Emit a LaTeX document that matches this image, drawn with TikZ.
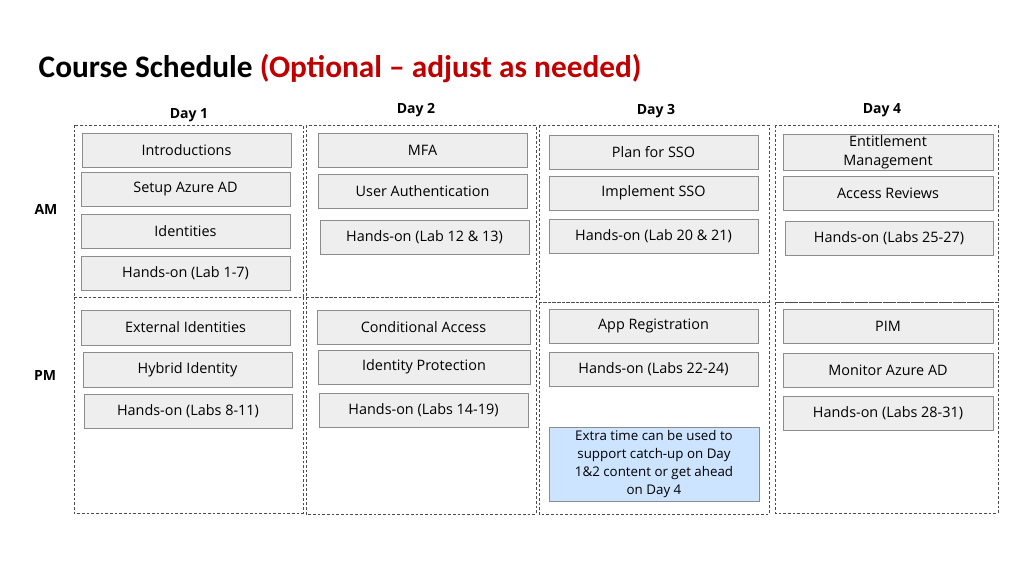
\documentclass[tikz,border=0pt]{standalone}
\usepackage{fontspec}
\setmainfont{Open Sans}
\newfontfamily\titlefont{Carlito}
\usetikzlibrary{positioning}
\definecolor{boxgray}{HTML}{EEEEEE}
\definecolor{boxline}{HTML}{8C8C8C}
\definecolor{extrablue}{HTML}{CCE4FF}
\definecolor{titlered}{HTML}{C00000}
\begin{document}
\begin{tikzpicture}[x=0.75pt, y=-0.75pt, font=\fontsize{10}{12}\selectfont,
  slot/.style={draw=boxline, fill=boxgray, align=center, inner sep=1pt},
  cell/.style={draw=black!70, dash pattern=on 2pt off 1.5pt, line width=0.5pt},
  daylabel/.style={font=\fontsize{10.5}{12}\selectfont\bfseries}]
\useasboundingbox (0,0) rectangle (1024,576);
\node[anchor=west, font=\titlefont\fontsize{23.5}{26}\selectfont\bfseries]
  (title) at (34,69) {Course Schedule \textcolor{titlered}{(Optional \textendash{} adjust as needed)}};
% day and session labels
\node[daylabel] (day1) at (189,115) {Day 1};
\node[daylabel] (day2) at (416,110) {Day 2};
\node[daylabel] (day3) at (656,111) {Day 3};
\node[daylabel] (day4) at (882,110) {Day 4};
\node[daylabel] (am) at (46,209) {AM};
\node[daylabel] (pm) at (45,375) {PM};
% dashed cells
\foreach \name/\xa/\ya/\xb/\yb in {
    c1a/74/125/303/297, c1p/74/297/303/513,
    c2a/306/125/536/297, c2p/306/297/536/514,
    c3a/539/125/769/302, c3p/539/302/769/514,
    c4a/775/125/998/302, c4p/775/302/998/513} {
  \draw[cell] (\xa,\ya) rectangle (\xb,\yb);
}
% schedule boxes
\foreach \name/\xa/\ya/\xb/\yb/\phrase in {
    intro/82/133/291/167/Introductions,
    setup/81/172/290/206/Setup Azure AD,
    ident/81/214/290/248/Identities,
    lab1/81/256/290/290/Hands-on (Lab 1-7),
    ext/81/310/290/345/External Identities,
    hybrid/83/352/292/387/Hybrid Identity,
    lab8/84/394/292/428/Hands-on (Labs 8-11),
    mfa/318/133/527/167/MFA,
    userauth/318/174/527/208/User Authentication,
    lab12/320/220/529/254/Hands-on (Lab 12 \& 13),
    condacc/317/310/530/344/Conditional Access,
    idprot/318/350/530/384/Identity Protection,
    lab14/319/393/528/427/Hands-on (Labs 14-19),
    plansso/549/135/758/169/Plan for SSO,
    implsso/549/176/758/210/Implement SSO,
    lab20/549/219/758/253/Hands-on (Lab 20 \& 21),
    appreg/549/309/758/343/App Registration,
    lab22/549/352/758/386/Hands-on (Labs 22-24),
    entitle/783/135/993/169/Entitlement\\Management,
    access/783/176/993/210/Access Reviews,
    lab25/785/221/993/255/Hands-on (Labs 25-27),
    pim/783/309/993/343/PIM,
    monitor/783/353/993/387/Monitor Azure AD,
    lab28/783/396/993/430/Hands-on (Labs 28-31)} {
  \node[slot, minimum width={(\xb-\xa)*0.75pt}, minimum height={(\yb-\ya)*0.75pt},
    font=\fontsize{10.8}{14}\selectfont]
    (\name) at ({(\xa+\xb)/2},{(\ya+\yb)/2}) {\phrase};
}
\node[slot, fill=extrablue, minimum width=157.5pt, minimum height=55.5pt,
  font=\fontsize{10}{13.5}\selectfont]
  (extra) at (654,464) {Extra time can be used to\\support catch-up on Day\\1\&2 content or get ahead\\on Day 4};
\end{tikzpicture}
\end{document}
